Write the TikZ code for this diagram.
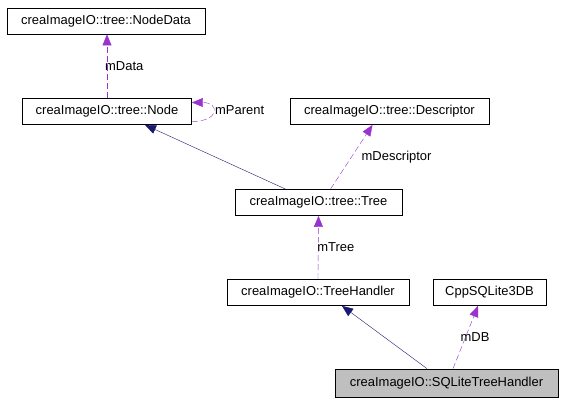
\documentclass[tikz,border=0pt]{standalone}
\usepackage{fontspec}
\setmainfont{Liberation Sans}
\usetikzlibrary{arrows.meta,positioning}

\begin{document}
\begin{tikzpicture}[x=1bp, y=-1bp]
  \tikzstyle{every node} = [font = \fontsize{13}{15}\selectfont,
                            inner sep = 0pt]
\tikzset{ClassStyle/.style={draw, thick, minimum height = 26bp, fill = white},
         InheritStyle/.style={color = {rgb,255:red,25;green,25;blue,112}, -{Triangle[length=11bp,width=9bp]}},
         UseStyle/.style={color = {rgb,255:red,154;green,50;blue,205}, dashed, dash pattern = on 6bp off 3bp,
                          -{Triangle[length=11bp,width=9bp]}},
         LabelStyle/.style={anchor = west, text = black}}
\useasboundingbox (0,0) rectangle (564,404);

\node[ClassStyle, minimum width = 198bp] (NodeData) at (106,21) {creaImageIO::tree::NodeData};
\node[ClassStyle, minimum width = 169bp] (Node) at (107,111.5) {creaImageIO::tree::Node};
\node[ClassStyle, minimum width = 199bp] (Descriptor) at (389.5,111.5) {creaImageIO::tree::Descriptor};
\node[ClassStyle, minimum width = 167bp] (Tree) at (318.5,202.5) {creaImageIO::tree::Tree};
\node[ClassStyle, minimum width = 182bp] (TreeHandler) at (318,292.5) {creaImageIO::TreeHandler};
\node[ClassStyle, minimum width = 113bp] (DB) at (489.5,292.5) {CppSQLite3DB};
\node[ClassStyle, minimum width = 223bp, minimum height = 28bp, fill = {rgb,255:red,191;green,191;blue,191}]
  (SQLite) at (446.5,383) {creaImageIO::SQLiteTreeHandler};

\draw[UseStyle] (Node.north) -- (Node.north |- NodeData.south)
  node[LabelStyle, midway, xshift = -2bp] {mData};
\draw[UseStyle] ([yshift=-10bp]Node.east) .. controls +(28,0) and +(28,0) .. ([yshift=9bp]Node.east);
\node[LabelStyle] (mParent) at (215,110) {mParent};
\draw[InheritStyle] ([xshift=-33bp]Tree.north) -- ([xshift=38bp]Node.south);
\draw[UseStyle] ([xshift=12bp]Tree.north) -- ([xshift=-17bp]Descriptor.south)
  node[LabelStyle, midway, xshift = 10bp] {mDescriptor};
\draw[UseStyle] (TreeHandler.north) -- (Tree.south)
  node[LabelStyle, midway, xshift = -1bp] {mTree};
\draw[InheritStyle] ([xshift=-19.5bp]SQLite.north) -- ([xshift=24bp]TreeHandler.south);
\draw[UseStyle] ([xshift=6.5bp]SQLite.north) -- ([xshift=-11.5bp]DB.south)
  node[LabelStyle, midway, xshift = -5bp] {mDB};

\end{tikzpicture}
\end{document}
